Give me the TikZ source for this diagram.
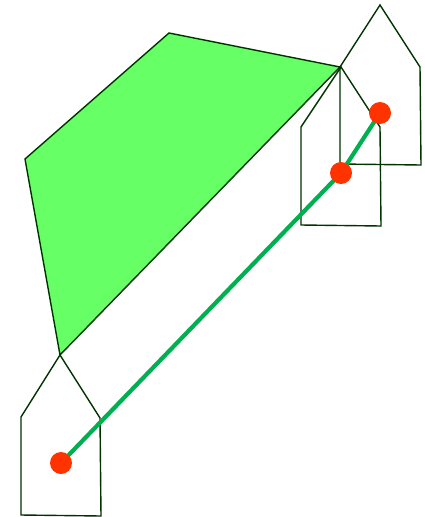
\documentclass[tikz,border=0pt]{standalone}
\usetikzlibrary{backgrounds}
\begin{document}
\begin{tikzpicture}[x=1pt,y=-1pt,
  outline/.style={draw={rgb,255:red,0;green,51;blue,0},line width=1.4pt,line join=miter},
  house/.style={outline},
  dot/.style={circle,fill={rgb,255:red,255;green,51;blue,0},minimum size=22pt,inner sep=0pt,draw=none},
  track/.style={draw={rgb,255:red,0;green,176;blue,80},line width=4.2pt}]
\useasboundingbox (0,0) rectangle (425,517);
% dots
\node[dot] (a) at (61,463) {};
\node[dot] (b) at (341,173) {};
\node[dot] (c) at (380,113) {};
\begin{scope}[on background layer]
% polygon
\draw[outline,fill={rgb,255:red,102;green,255;blue,102}] (60,355) -- (25,159) -- (169,33) -- (340,67) -- cycle;
% houses
\draw[house] (340,164) -- (340,67) -- (380,5) -- (420,67) -- (421,165) -- cycle;
\draw[house] (301,225) -- (301,127) -- (341,67) -- (380,127) -- (381,226) -- cycle;
\draw[house] (21,515) -- (21,417) -- (60,355) -- (100,418) -- (101,516) -- cycle;
% track
\draw[track] (a.center) -- (b.center) -- (c.center);
\end{scope}
\end{tikzpicture}
\end{document}
